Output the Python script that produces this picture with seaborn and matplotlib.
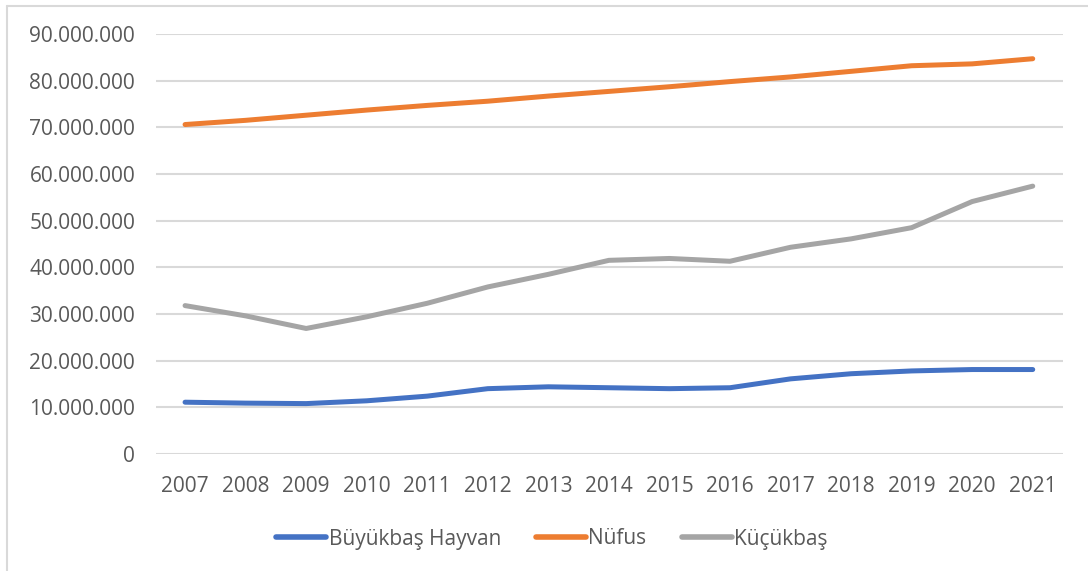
import matplotlib
matplotlib.use("Agg")
import matplotlib.pyplot as plt
import matplotlib.ticker as mticker
from matplotlib.lines import Line2D
import pandas as pd
import seaborn as sns

years = [str(y) for y in range(2007, 2022)]
buyukbas = [11.1, 10.9, 10.8, 11.4, 12.4, 14.0, 14.4, 14.2, 14.0, 14.2, 16.1, 17.2, 17.8, 18.1, 18.1]
nufus = [70.6, 71.5, 72.6, 73.7, 74.7, 75.6, 76.7, 77.7, 78.7, 79.8, 80.8, 82.0, 83.2, 83.6, 84.7]
kucukbas = [31.8, 29.6, 26.9, 29.4, 32.3, 35.8, 38.5, 41.5, 41.9, 41.3, 44.3, 46.1, 48.5, 54.1, 57.4]

series_names = ["Büyükbaş Hayvan", "Nüfus", "Küçükbaş"]
colors = ["#4472C4", "#ED7D31", "#A5A5A5"]

df = pd.DataFrame({"Yıl": years, series_names[0]: buyukbas,
                   series_names[1]: nufus, series_names[2]: kucukbas})
long = df.melt(id_vars="Yıl", var_name="Seri", value_name="Deger")
long["Deger"] = long["Deger"] * 1_000_000

sns.set_style("white")
plt.rcParams["font.family"] = ["Open Sans", "DejaVu Sans"]

fig = plt.figure(figsize=(10.88, 5.71), dpi=100)
ax = fig.add_axes([156 / 1088, 1 - 454 / 571, (1063 - 156) / 1088, 420 / 571])

sns.lineplot(data=long, x="Yıl", y="Deger", hue="Seri", hue_order=series_names,
             palette=colors, linewidth=3.6, ax=ax, legend=False, sort=False)
for line in ax.get_lines():
    line.set_solid_capstyle("round")
    line.set_solid_joinstyle("round")

ax.set_ylim(0, 90_000_000)
ax.set_xlim(-0.48, 14.5)
ax.yaxis.set_major_locator(mticker.MultipleLocator(10_000_000))
ax.yaxis.set_major_formatter(mticker.FuncFormatter(lambda v, p: f"{int(v):,}".replace(",", ".")))
ax.grid(axis="y", color="#D9D9D9", linewidth=1.5)
ax.set_axisbelow(True)
for s in ax.spines.values():
    s.set_visible(False)
ax.tick_params(axis="both", length=0, labelsize=15, labelcolor="#595959")
ax.tick_params(axis="y", pad=15)
ax.tick_params(axis="x", pad=16)
ax.set_xlabel("")
ax.set_ylabel("")

handles = [Line2D([], [], color=c, linewidth=4, solid_capstyle="round") for c in colors]
fig.legend(handles, series_names, loc="center", bbox_to_anchor=(552 / 1088, 1 - 539 / 571),
           ncol=3, frameon=False, fontsize=15, handlelength=2.4, handletextpad=0.1,
           columnspacing=1.7, labelcolor="#595959")

# outer chart border (top and left edges visible)
fig.add_artist(Line2D([7 / 1088, 1], [1 - 6 / 571, 1 - 6 / 571], color="#D9D9D9", linewidth=1.5))
fig.add_artist(Line2D([7 / 1088, 7 / 1088], [0, 1 - 6 / 571], color="#D9D9D9", linewidth=1.5))

fig.savefig("out.png", dpi=100)
